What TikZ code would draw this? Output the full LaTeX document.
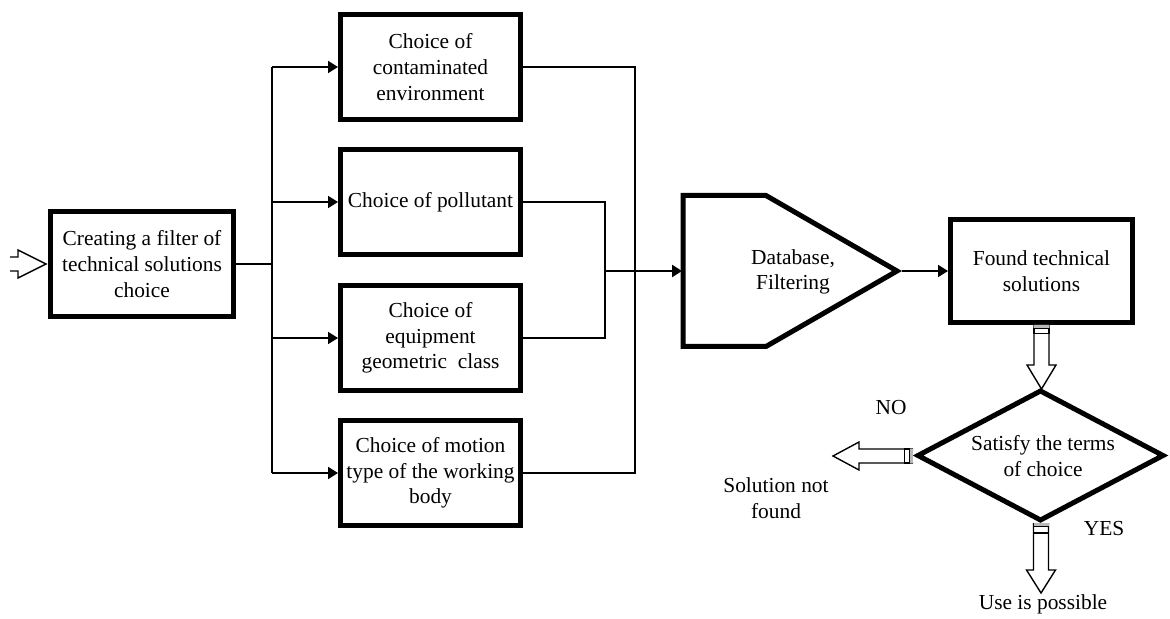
\documentclass[tikz,border=0pt]{standalone}
\usepackage{fontspec}
\setmainfont{Liberation Serif}
\usetikzlibrary{arrows.meta,calc}
\begin{document}
\begin{tikzpicture}[x=0.5pt,y=-0.5pt,
  txt/.style={font=\fontsize{10.7}{12.8}\selectfont, align=center, inner sep=0pt},
  blk/.style={draw, line width=2.5pt, txt, minimum width=90pt, minimum height=52.5pt},
  conn/.style={line width=0.9pt},
  thick conn/.style={line width=1.3pt},
  arr/.style={-{Triangle[length=5pt,width=6pt]}},
  hollow/.style={draw, line width=0.7pt, fill=white, line join=miter},
  heavy/.style={draw, line width=2.5pt, line join=miter},
]
\useasboundingbox (0,0) rectangle (1170,619);

% main boxes
\node[blk, minimum width=91.5pt] (filt) at (142,264) {Creating a filter of\\technical solutions\\choice};
\node[blk] (c1) at (430.5,67) {Choice of\\contaminated\\environment};
\node[blk] (c2) at (430.5,202) {Choice of pollutant};
\node[blk] (c3) at (430.5,338) {Choice of\\equipment\\geometric\ \ class};
\node[blk] (c4) at (430.5,473) {Choice of motion\\type of the working\\body};
\node[blk, minimum width=91pt, minimum height=51.5pt] (found) at (1041.5,271) {Found technical\\solutions};

% database shape
\draw[heavy] (683,195.5) -- (766,195.5) -- (897,271) -- (766,346.5) -- (683,346.5) -- cycle;
\node[txt] (dbtext) at (793,272) {Database,\\Filtering};
\coordinate (dbL) at (682,271);
\coordinate (dbT) at (902,271);

% decision diamond
\draw[heavy] (1040.5,391) -- (1163,455.5) -- (1040.5,520) -- (918,455.5) -- cycle;
\node[txt] (dia) at (1043,456) {Satisfy the terms\\of choice};
\coordinate (diaTop) at (1041,389);
\coordinate (diaLeft) at (913,456);
\coordinate (diaBot) at (1041,523);

% bus coordinates
\coordinate (bx) at (272,0);
\coordinate (rx1) at (635,0);
\coordinate (rx2) at (605,0);

% connectors left
\draw[thick conn] (filt.east) -- (filt.east -| bx);
\draw[conn] (c1.west -| bx) -- (c4.west -| bx);
\foreach \n in {c1,c2,c3,c4}
  \draw[conn,arr] (\n.west -| bx) -- (\n.west);

% connectors right
\draw[conn] (c1.east) -- (c1.east -| rx1) -- (c4.east -| rx1) -- (c4.east);
\draw[conn] (c2.east) -- (c2.east -| rx2) -- (c3.east -| rx2) -- (c3.east);
\draw[thick conn,arr] (dbL -| rx2) -- (dbL);
\draw[conn,arr] (dbT) -- (found.west);

% input hollow arrow
\draw[hollow, shift={(filt.west)}] (-38,-7) -- (-30,-7) -- (-30,-14) -- (-2,0) -- (-30,14) -- (-30,7) -- (-38,7);

% found -> diamond hollow arrow
\begin{scope}[shift={(found.south)}]
  \draw[hollow] (-7.5,0) -- (-7.5,40) -- (-14.5,40) -- (0,64) -- (14.5,40) -- (7.5,40) -- (7.5,0);
  \fill[gray!55] (-7.5,0) rectangle (7.5,3);
  \draw[line width=0.6pt] (-7.5,3.5) rectangle (7.5,8.5);
\end{scope}

% NO hollow arrow
\begin{scope}[shift={(diaLeft)}]
  \draw[hollow] (0,-7) -- (-54,-7) -- (-54,-14) -- (-80,0) -- (-54,14) -- (-54,7) -- (0,7);
  \fill[gray!55] (0,-7) rectangle (-3,7);
  \draw[line width=0.6pt] (-3.5,-7) rectangle (-8.5,7);
\end{scope}

% YES hollow arrow
\begin{scope}[shift={(diaBot)}]
  \draw[hollow] (-7.5,0) -- (-7.5,47) -- (-14.5,47) -- (0,70) -- (14.5,47) -- (7.5,47) -- (7.5,0);
  \fill[gray!55] (-7.5,0) rectangle (7.5,3);
  \draw[line width=0.6pt] (-7.5,3.5) rectangle (7.5,10);
\end{scope}

% labels
\node[txt] (no) at (891,408) {NO};
\node[txt] (notfound) at (776,498) {Solution not\\found};
\node[txt] (yes) at (1104,529) {YES};
\node[txt] (use) at (1043,604) {Use is possible};
\end{tikzpicture}
\end{document}
